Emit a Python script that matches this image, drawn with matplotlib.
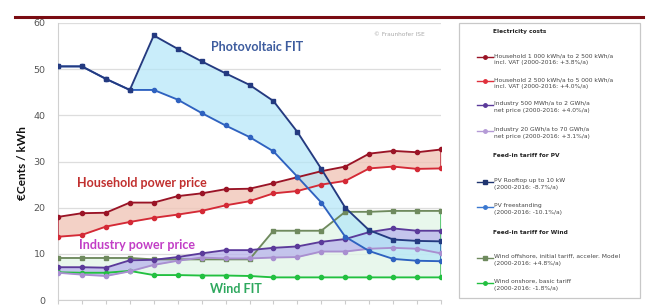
import matplotlib
matplotlib.use("Agg")
import matplotlib.pyplot as plt
from matplotlib.lines import Line2D
from matplotlib.patches import Rectangle

# ---------------- data ----------------
years = list(range(2000, 2017))
household_1 = [18.0, 18.8, 18.9, 21.1, 21.1, 22.5, 23.1, 24.0, 24.1, 25.3, 26.6, 27.9, 28.9, 31.7, 32.3, 32.0, 32.6]
household_2 = [13.7, 14.1, 15.9, 16.9, 17.8, 18.5, 19.3, 20.5, 21.4, 23.1, 23.6, 25.0, 25.8, 28.5, 28.9, 28.4, 28.5]
industry_1 = [7.1, 7.1, 7.0, 8.6, 8.7, 9.3, 10.1, 10.8, 10.8, 11.3, 11.6, 12.6, 13.2, 14.7, 15.5, 15.0, 15.0]
industry_2 = [5.9, 5.5, 5.2, 6.2, 7.6, 8.5, 9.2, 9.0, 9.0, 9.2, 9.3, 10.5, 10.5, 11.1, 11.3, 11.1, 10.1]
pv_rooftop = [50.6, 50.6, 47.9, 45.5, 57.3, 54.4, 51.7, 49.1, 46.6, 43.1, 36.4, 28.4, 20.0, 15.1, 13.1, 12.8, 12.7]
pv_freestanding = [50.6, 50.6, 47.9, 45.5, 45.5, 43.4, 40.5, 37.8, 35.3, 32.2, 26.7, 21.1, 13.7, 10.6, 8.9, 8.5, 8.4]
wind_offshore = [9.1, 9.1, 9.1, 9.1, 8.8, 8.8, 8.8, 8.8, 8.8, 15.0, 15.0, 15.0, 19.1, 19.1, 19.3, 19.3, 19.3]
wind_onshore = [6.0, 5.9, 5.9, 6.3, 5.4, 5.4, 5.3, 5.3, 5.2, 4.9, 4.9, 4.9, 4.9, 4.9, 4.9, 4.9, 4.9]
y_ticks = [0, 10, 20, 30, 40, 50, 60]

legend_sections = [
    ("Electricity costs", [
        ("Household 1 000 kWh/a to 2 500 kWh/a\nincl. VAT (2000-2016: +3.8%/a)", "#9a1426", "o"),
        ("Household 2 500 kWh/a to 5 000 kWh/a\nincl. VAT (2000-2016: +4.0%/a)", "#e0303c", "o"),
        ("Industry 500 MWh/a to 2 GWh/a\nnet price (2000-2016: +4.0%/a)", "#5b3a9a", "o"),
        ("Industry 20 GWh/a to 70 GWh/a\nnet price (2000-2016: +3.1%/a)", "#b49ad6", "o"),
    ]),
    ("Feed-in tariff for PV", [
        ("PV Rooftop up to 10 kW\n(2000-2016: -8.7%/a)", "#1f3570", "s"),
        ("PV freestanding\n(2000-2016: -10.1%/a)", "#3b78d0", "o"),
    ]),
    ("Feed-in tariff for Wind", [
        ("Wind offshore, initial tariff, acceler. Model\n(2000-2016: +4.8%/a)", "#6f8a5e", "s"),
        ("Wind onshore, basic tariff\n(2000-2016: -1.8%/a)", "#22c040", "o"),
    ]),
]

W, H = 647, 308
fig = plt.figure(figsize=(W / 100, H / 100), dpi=100)
fig.patch.set_facecolor("white")

def fx(px):
    return px / W

def fy(py):
    return 1 - py / H

# header line
fig.add_artist(Line2D([fx(15), fx(643)], [fy(17), fy(17)], color="#7a0c12", lw=2.2))

ax = fig.add_axes([fx(58), fy(300), (441 - 58) / W, (300 - 23) / H])
ax.set_xlim(2000, 2016)
ax.set_ylim(0, 60)
ax.set_yticks(y_ticks)
ax.set_xticks(years)
ax.set_xticklabels([])
ax.tick_params(axis="y", length=0, labelsize=6.8, labelcolor="#555555", pad=9)
ax.tick_params(axis="x", length=3, color="#cccccc")
ax.grid(axis="y", color="#dddddd", lw=0.9)
ax.set_axisbelow(True)
for s in ["top", "right"]:
    ax.spines[s].set_visible(False)
ax.spines["left"].set_color("#d0d0d0")
ax.spines["bottom"].set_color("#d0d0d0")

# bands
ax.fill_between(years, wind_offshore, wind_onshore, color="#e3f6e8", alpha=0.8, lw=0, zorder=1)
ax.fill_between(years, industry_1, industry_2, color="#b9b4ec", alpha=0.75, lw=0, zorder=2)
ax.fill_between(years, household_1, household_2, color="#f0c6b8", alpha=0.8, lw=0, zorder=2)
ax.fill_between(years, pv_rooftop, pv_freestanding, color="#b3e6f8", alpha=0.7, lw=0, zorder=3)

# band end edges
ax.plot([years[-1], years[-1]], [wind_offshore[-1], wind_onshore[-1]], color="#3cbf5a", lw=1.1, zorder=4)
ax.plot([years[-1], years[-1]], [household_1[-1], household_2[-1]], color="#c03040", lw=1.1, zorder=4)
ax.plot([years[0], years[0]], [household_1[0], household_2[0]], color="#c03040", lw=1.1, zorder=4)
ax.plot([years[-1], years[-1]], [pv_rooftop[-1], pv_freestanding[-1]], color="#3b78d0", lw=1.1, zorder=4)

series = [
    (wind_onshore, "#22c040", "o"),
    (wind_offshore, "#6f8a5e", "s"),
    (industry_2, "#a98fd0", "o"),
    (industry_1, "#5b3a9a", "o"),
    (household_2, "#d42a36", "o"),
    (household_1, "#9a1426", "o"),
    (pv_freestanding, "#2f62c0", "o"),
    (pv_rooftop, "#243a80", "s"),
]
for vals, col, mk in series:
    ax.plot(years, vals, color=col, lw=1.35, marker=mk, markersize=3, zorder=5)

# chart annotations
def yr(px):
    return 2000 + (px - 58) / ((441 - 58) / 16)

def val(py):
    return (300 - py) / ((300 - 23) / 60)

fam = ["Lato", "DejaVu Sans"]
ax.text(yr(211), val(47), "Photovoltaic FIT", color="#3d5c9e", fontsize=9, fontweight="bold",
        family=fam, va="center", ha="left", zorder=6)
ax.text(yr(77), val(183), "Household power price", color="#c1302f", fontsize=9, fontweight="bold",
        family=fam, va="center", ha="left", zorder=6)
ax.text(yr(79), val(245), "Industry power price", color="#c23ec6", fontsize=9, fontweight="bold",
        family=fam, va="center", ha="left", zorder=6)
ax.text(yr(210), val(289), "Wind FIT", color="#2ea85e", fontsize=9, fontweight="bold",
        family=fam, va="center", ha="left", zorder=6)
ax.text(yr(374), val(34), "© Fraunhofer ISE", color="#aaaaaa", fontsize=4.2,
        va="center", ha="left", zorder=6)

fig.text(fx(23), fy(163), "€Cents / kWh", rotation=90, fontsize=8.5, fontweight="bold",
         family=fam, va="center", ha="center", color="#111111")

# legend box
fig.add_artist(Rectangle((fx(459), fy(298)), fx(640) - fx(459), fy(23) - fy(298),
                         transform=fig.transFigure, fill=False, ec="#c8c8c8", lw=0.9))

section_y = [32, 156, 233]
entry_y = [[57, 81, 105, 131], [182, 207], [258, 283]]
for (title, entries), ty, eys in zip(legend_sections, section_y, entry_y):
    fig.text(fx(493), fy(ty), title, fontsize=4.2, fontweight="bold", va="center", ha="left", color="#222222")
    for (lab, col, mk), ey in zip(entries, eys):
        fig.add_artist(Line2D([fx(477), fx(493)], [fy(ey), fy(ey)], color=col, lw=1.0))
        fig.add_artist(Line2D([fx(485)], [fy(ey)], color=col, marker=mk, markersize=2.5))
        fig.text(fx(494), fy(ey - 4), lab, fontsize=4.3, va="top", ha="left", color="#444444",
                 linespacing=1.5)

fig.savefig("out.png", dpi=100)
